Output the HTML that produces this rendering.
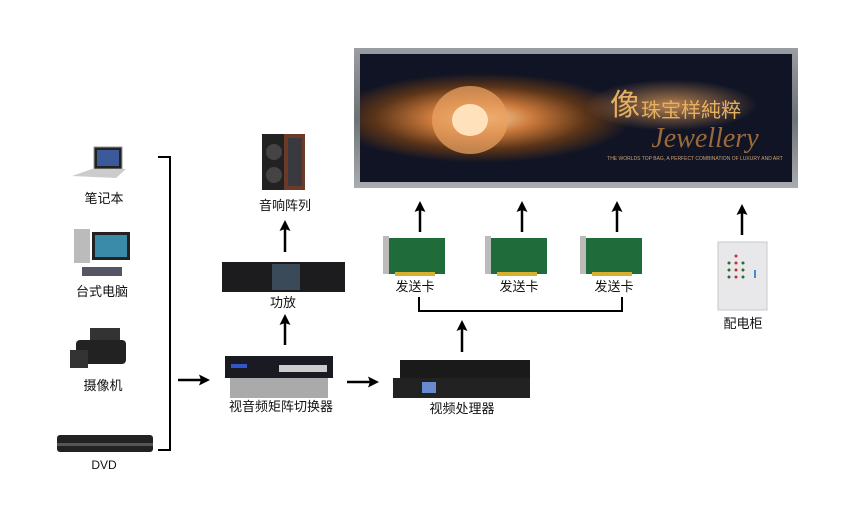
<!DOCTYPE html>
<html><head><meta charset="utf-8"><style>
html,body{margin:0;padding:0;background:#fff;width:860px;height:518px;overflow:hidden}
svg text{font-family:"Liberation Sans","Noto Sans CJK SC",sans-serif;font-size:13px;fill:#111;text-anchor:middle}
</style></head><body>
<svg width="860" height="518" viewBox="0 0 860 518" xmlns="http://www.w3.org/2000/svg">
<defs>
<marker id="a" markerWidth="11" markerHeight="11" refX="5" refY="5.5" orient="auto" markerUnits="userSpaceOnUse"><path d="M0,0 L11,5.5 L0,11 L2,5.5 Z" fill="#000"/></marker>
<radialGradient id="fl" cx="0.28" cy="0.5" r="0.35"><stop offset="0" stop-color="#ffd9a8"/><stop offset="0.35" stop-color="#c9783a"/><stop offset="0.7" stop-color="#5a3418"/><stop offset="1" stop-color="#101425"/></radialGradient>
<radialGradient id="gl" cx="0.72" cy="0.4" r="0.2"><stop offset="0" stop-color="#ffb060" stop-opacity="0.7"/><stop offset="1" stop-color="#ffb060" stop-opacity="0"/></radialGradient>
<linearGradient id="fr" x1="0" y1="0" x2="0" y2="1"><stop offset="0" stop-color="#9a9ea2"/><stop offset="0.5" stop-color="#6d7276"/><stop offset="1" stop-color="#a9adb0"/></linearGradient>
</defs>
<!-- screen -->
<rect x="354" y="48" width="444" height="140" fill="url(#fr)"/>
<rect x="360" y="54" width="432" height="128" fill="#0e1322"/>
<rect x="360" y="54" width="432" height="128" fill="url(#fl)"/>
<rect x="360" y="54" width="432" height="128" fill="url(#gl)"/>
<ellipse cx="470" cy="120" rx="38" ry="34" fill="#e8a060" opacity="0.75"/>
<ellipse cx="470" cy="120" rx="18" ry="16" fill="#ffe2bb"/>
<text x="610" y="115" style="font-size:30px;fill:#e6b060;text-anchor:start">像</text>
<text x="641" y="117" style="font-size:20px;fill:#e6b060;text-anchor:start">珠宝样純粹</text>
<text x="705" y="147" style="font-size:28px;fill:#9a6a3a;font-style:italic;font-family:'Liberation Serif',serif">Jewellery</text>
<text x="695" y="160" style="font-size:5px;fill:#c9a070">THE WORLDS TOP BAG, A PERFECT COMBINATION OF LUXURY AND ART</text>
<!-- bracket -->
<path d="M158,157 H170 V450 H158" fill="none" stroke="#000" stroke-width="2"/>
<!-- left devices -->
<rect x="94" y="147" width="28" height="22" fill="#222" stroke="#999"/><rect x="97" y="150" width="22" height="16" fill="#3c5a9a"/><path d="M72,176 L92,169 L126,169 L116,178 Z" fill="#ccc"/>
<text x="104" y="203">笔记本</text>
<rect x="74" y="229" width="16" height="34" fill="#bbb"/><rect x="92" y="232" width="38" height="28" fill="#222"/><rect x="95" y="235" width="32" height="22" fill="#3a8aaa"/><rect x="82" y="267" width="40" height="9" fill="#556"/>
<text x="102" y="296">台式电脑</text>
<rect x="76" y="340" width="50" height="24" rx="4" fill="#222"/><rect x="70" y="350" width="18" height="18" fill="#333"/><rect x="90" y="328" width="30" height="12" fill="#333"/>
<text x="103" y="390">摄像机</text>
<rect x="57" y="435" width="96" height="17" rx="3" fill="#222"/><rect x="57" y="443" width="96" height="3" fill="#555"/>
<text x="104" y="469" style="font-size:12px">DVD</text>
<!-- speaker -->
<rect x="262" y="134" width="24" height="56" fill="#222"/><rect x="284" y="134" width="21" height="56" fill="#6b3a28"/><circle cx="274" cy="152" r="8" fill="#444"/><circle cx="274" cy="175" r="8" fill="#444"/><rect x="288" y="138" width="14" height="48" fill="#3a3a3e"/>
<text x="285" y="210">音响阵列</text>
<line x1="285" y1="252" x2="285" y2="226" stroke="#000" stroke-width="2.5" marker-end="url(#a)"/>
<!-- amp -->
<rect x="222" y="262" width="123" height="30" fill="#1c1c1e"/><rect x="272" y="264" width="28" height="26" fill="#3a4a58"/>
<text x="283" y="307">功放</text>
<line x1="285" y1="345" x2="285" y2="320" stroke="#000" stroke-width="2.5" marker-end="url(#a)"/>
<!-- matrix -->
<rect x="225" y="356" width="108" height="22" fill="#1a1a22"/><rect x="231" y="364" width="16" height="4" fill="#3355cc"/><rect x="279" y="365" width="48" height="7" fill="#ccc"/>
<rect x="230" y="378" width="98" height="20" fill="#aaa"/>
<text x="281" y="411">视音频矩阵切换器</text>
<line x1="178" y1="380" x2="204" y2="380" stroke="#000" stroke-width="2.5" marker-end="url(#a)"/>
<line x1="347" y1="382" x2="373" y2="382" stroke="#000" stroke-width="2.5" marker-end="url(#a)"/>
<!-- video processor -->
<rect x="400" y="360" width="130" height="18" fill="#1a1a1a"/><rect x="393" y="378" width="137" height="20" fill="#222"/><rect x="422" y="382" width="14" height="11" fill="#6a8ad0"/>
<text x="462" y="413">视频处理器</text>
<line x1="462" y1="352" x2="462" y2="326" stroke="#000" stroke-width="2.5" marker-end="url(#a)"/>
<path d="M419,297 V311 H622 V297" fill="none" stroke="#000" stroke-width="2"/>
<!-- cards -->
<g fill="#1f6b3a"><rect x="387" y="238" width="58" height="36"/><rect x="489" y="238" width="58" height="36"/><rect x="584" y="238" width="58" height="36"/></g>
<g fill="#d8b030"><rect x="395" y="272" width="40" height="4"/><rect x="497" y="272" width="40" height="4"/><rect x="592" y="272" width="40" height="4"/></g>
<g fill="#bbb"><rect x="383" y="236" width="6" height="38"/><rect x="485" y="236" width="6" height="38"/><rect x="580" y="236" width="6" height="38"/></g>
<text x="415" y="291">发送卡</text><text x="519" y="291">发送卡</text><text x="614" y="291">发送卡</text>
<g stroke="#000" stroke-width="2.5"><line x1="420" y1="232" x2="420" y2="207" marker-end="url(#a)"/><line x1="522" y1="232" x2="522" y2="207" marker-end="url(#a)"/><line x1="617" y1="232" x2="617" y2="207" marker-end="url(#a)"/><line x1="742" y1="235" x2="742" y2="210" marker-end="url(#a)"/></g>
<!-- cabinet -->
<rect x="718" y="242" width="49" height="68" fill="#e8e8ea" stroke="#c8c8cc"/>
<g fill="#b33"><circle cx="736" cy="256" r="1.5"/><circle cx="736" cy="263" r="1.5"/><circle cx="736" cy="270" r="1.5"/><circle cx="736" cy="277" r="1.5"/></g>
<g fill="#363"><circle cx="729" cy="263" r="1.5"/><circle cx="743" cy="263" r="1.5"/><circle cx="729" cy="270" r="1.5"/><circle cx="743" cy="270" r="1.5"/><circle cx="729" cy="277" r="1.5"/><circle cx="743" cy="277" r="1.5"/></g>
<rect x="754" y="270" width="2" height="8" fill="#4a8acc"/>
<text x="743" y="328">配电柜</text>
</svg>
</body></html>
